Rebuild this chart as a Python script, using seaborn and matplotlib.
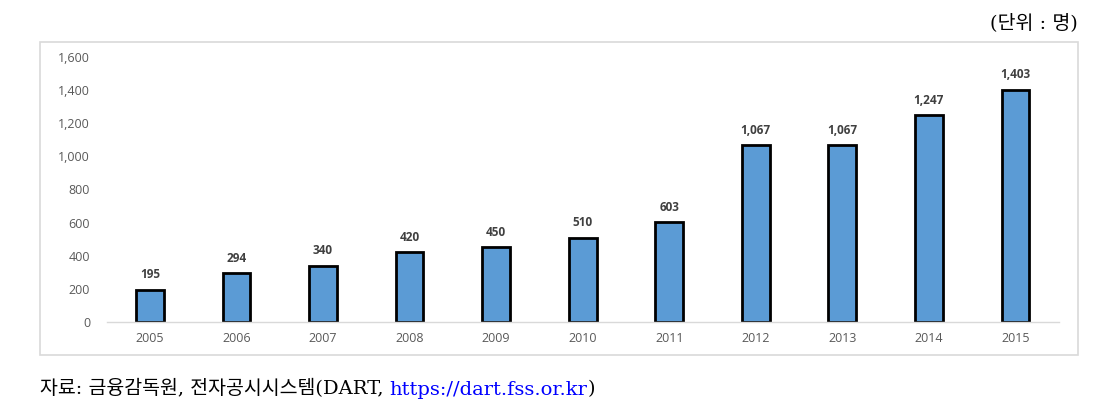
import matplotlib
matplotlib.use("Agg")
import matplotlib.pyplot as plt
import seaborn as sns
import pandas as pd
from matplotlib.patches import Rectangle
from matplotlib.ticker import FuncFormatter

years = ["2005", "2006", "2007", "2008", "2009", "2010", "2011", "2012", "2013", "2014", "2015"]
values = [195, 294, 340, 420, 450, 510, 603, 1067, 1067, 1247, 1403]
yticks = [0, 200, 400, 600, 800, 1000, 1200, 1400, 1600]
unit_text = "(단위 : 명)"
source_text = "자료: 금융감독원, 전자공시시스템(DART, "
source_url = "https://dart.fss.or.kr"

sns.set_theme(style="white")
plt.rcParams['font.family'] = ['Open Sans', 'Noto Sans CJK KR', 'DejaVu Sans']

df = pd.DataFrame({"year": years, "value": values})

fig = plt.figure(figsize=(11.16, 4.11), dpi=100)
ax = fig.add_axes([0.0956, 0.2165, 0.853, 0.645])

sns.barplot(data=df, x="year", y="value", ax=ax, color="#5b9bd5", saturation=1,
            width=0.32, edgecolor="black", linewidth=2.0)

ax.set_ylim(0, 1600)
ax.set_xlim(-0.5, len(years) - 0.5)
ax.set_yticks(yticks)
ax.yaxis.set_major_formatter(FuncFormatter(lambda v, p: f"{int(v):,}"))
ax.set_xlabel("")
ax.set_ylabel("")
for s in ["top", "right", "left"]:
    ax.spines[s].set_visible(False)
ax.spines["bottom"].set_color("#d9d9d9")
ax.spines["bottom"].set_linewidth(1.0)
ax.tick_params(axis="both", length=0, colors="#595959", labelsize=9)
ax.tick_params(axis="y", pad=12)
ax.tick_params(axis="x", pad=7)

labels = [f"{v:,}" for v in values]
ax.bar_label(ax.containers[0], labels=labels, padding=6, fontsize=8.5,
             fontweight="bold", color="#404040")

# outer chart frame
frame = Rectangle((0.0358, 0.136), 0.930, 0.762, transform=fig.transFigure,
                  fill=False, edgecolor="#d9d9d9", linewidth=1.2)
fig.add_artist(frame)

serif = ['DejaVu Serif', 'Noto Sans CJK KR']
fig.text(0.966, 0.946, unit_text, ha="right", va="center", fontsize=14,
         color="black", family=serif)

t1 = fig.text(0.0358, 0.04, source_text, ha="left", va="baseline", fontsize=14,
              color="black", family=serif)
t2 = ax.annotate(source_url, xy=(1, 0), xycoords=t1, ha="left", va="bottom",
                 fontsize=14, color="#0000ff", family=serif, annotation_clip=False)
ax.annotate(")", xy=(1, 0), xycoords=t2, ha="left", va="bottom",
            fontsize=14, color="black", family=serif, annotation_clip=False)

fig.savefig("out.png", dpi=100, facecolor="white")
